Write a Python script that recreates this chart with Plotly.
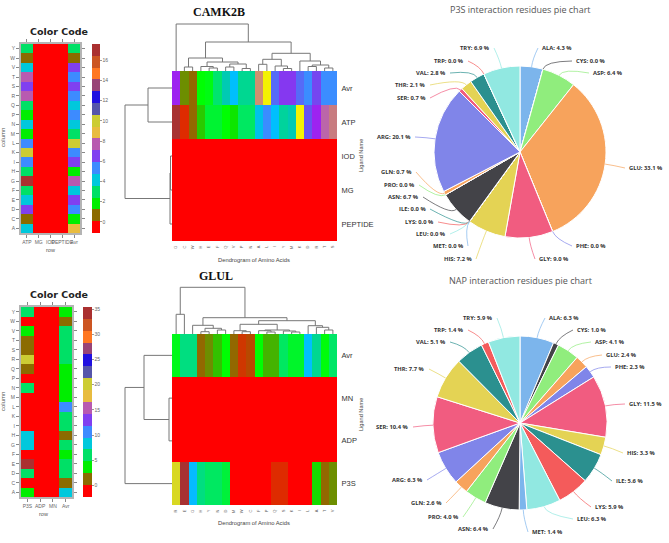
import math
import plotly.graph_objects as go

W = 669
H = 543

# ---- color code panels (counts per residue and ligand)
residues_rev = ["Y", "W", "V", "T", "S", "R", "Q", "P", "N", "M", "L", "K", "I", "H", "G", "F", "E", "D", "C", "A"]
ligands_a = ["ATP", "MG", "IOD", "PEPTIDE", "Avr"]
atp_a = [3, 1, 4, 8, 7, 8, 3, 2, 4, 2, 5, 10, 5, 3, 17, 3, 4, 7, 1, 4]
avr_a = [3, 1, 7, 5, 7, 5, 4, 5, 4, 3, 10, 5, 7, 2, 8, 4, 7, 5, 2, 9]
zeros = [0] * 20

ligands_b = ["P3S", "ADP", "MN", "Avr"]
p3s_b = [5, 0, 3, 2, 1, 20, 1, 0, 6, 0, 0, 0, 0, 8, 8, 0, 34, 6, 0, 4]
avr_b = [4, 2, 6, 6, 6, 6, 4, 4, 4, 4, 10, 6, 6, 2, 6, 4, 6, 6, 2, 8]

band_colors = ["#ff0000", "#8b6b00", "#00ee00", "#00e066", "#00c8dc", "#3d8bff", "#8040f0", "#b85ab0",
               "#e8bc40", "#cccc33", "#5555aa", "#2010e0", "#994477", "#ff7722", "#cc5522", "#aa3030"]

# ---- clustered heatmaps
order_a = ["G", "C", "W", "H", "E", "F", "Q", "V", "P", "N", "A", "L", "I", "Y", "M", "K", "D", "R", "T", "S"]
rows_a = ["Avr", "ATP", "IOD", "MG", "PEPTIDE"]
clu_avr_a = [7.1, 1.5, 1, 2.4, 2.5, 3.1, 3.7, 4.4, 3.4, 3.4, 9, 10, 6, 6.8, 6.8, 6, 5.4, 6.6, 5.4, 5.4]
clu_atp_a = [17, 0.5, 1, 1.9, 2.7, 2.7, 2.4, 2.1, 3, 3, 4.2, 5.4, 4.4, 3.5, 3.7, 10, 6.4, 7.1, 8, 8.5]

order_b = ["R", "E", "G", "H", "Y", "N", "D", "M", "W", "C", "F", "P", "Q", "S", "K", "I", "L", "A", "T", "V"]
rows_b = ["Avr", "MN", "ADP", "P3S"]
clu_avr_b = [5.1, 6.5, 6.5, 2, 3, 3.7, 4.8, 2, 1.2, 1.5, 4.8, 3.5, 3.5, 6, 5.3, 5.3, 8.8, 6.8, 4.9, 6.1]
clu_p3s_b = [21, 34, 9, 6.5, 6, 6, 5.5, 0, 0, 0, 0, 0, 1, 1, 0, 0, 0, 4, 2, 3]

clu_scale = [[0, "#ff0000"], [0.03, "#dd2c00"], [0.06, "#8f6a00"], [0.09, "#6b9000"], [0.12, "#10e000"],
             [0.14, "#00ff00"], [0.18, "#00e66a"], [0.22, "#00c8b8"], [0.26, "#00bfff"], [0.32, "#3d8bff"],
             [0.38, "#6a50f0"], [0.42, "#a020f0"], [0.47, "#bb66aa"], [0.50, "#c87c80"], [0.53, "#d09070"],
             [0.59, "#f5f500"], [0.64, "#c0c040"], [1, "#a83232"]]

# dendrograms: (height, left, right), leaves are column or row numbers
tree_top_a = (47, 0, (29,
                      (13, (4, 1, 2), (9, (4.5, 3, (3, 4, 5)), (7, (4, 6, 7), (2.5, 8, 9)))),
                      (17.7, (11.7, (6.7, 10, 11), (5, 12, (2.5, 13, 14))),
                       (10, 15, (6, (4.5, 16, 17), (3, 18, 19))))))
tree_side_a = (47, (24, 0, 1), (2, (1.5, 2, 3), 4))
tree_top_b = (46.7, (19.7, 0, 1), (16.3,
                                   (8.7, 2, (5.7, (2.3, 3, 4), (4, 5, 6))),
                                   (13.3, (9.7, (3.3, 7, (2.3, 8, 9)),
                                           (4, (3.3, 10, (2, 11, 12)), (3, 13, (2, 14, 15)))),
                                    (8.3, 16, (6.7, 17, (4, 18, 19))))))
tree_side_b = (47, (28, 0, (3, 1, 2)), 3)

# ---- pie charts
amino = ["ALA", "CYS", "ASP", "GLU", "PHE", "GLY", "HIS", "ILE", "LYS", "LEU", "MET", "ASN", "PRO", "GLN", "ARG",
         "SER", "THR", "VAL", "TRP", "TRY"]
p3s_share = [4.3, 0.0, 6.4, 33.1, 0.0, 9.0, 7.2, 0.0, 0.0, 0.0, 0.0, 6.7, 0.0, 0.7, 20.1, 0.7, 2.1, 2.8, 0.0, 6.9]
nap_share = [6.3, 1.0, 4.1, 2.4, 2.3, 11.5, 3.3, 5.6, 5.9, 6.3, 1.4, 6.4, 4.0, 2.6, 6.3, 10.4, 7.7, 5.1, 1.4, 5.9]
pie_colors = ["#7cb5ec", "#434348", "#90ed7d", "#f7a35c", "#8085e9", "#f15c80", "#e4d354", "#2b908f", "#f45b5b",
              "#91e8e1"] * 2

# where the pie labels sit on the page (x, y, side)
p3s_spots = {"ALA": (541, 48, "l"), "CYS": (575, 61, "l"), "ASP": (592, 73, "l"), "GLU": (628, 168, "l"),
             "PHE": (575, 246, "l"), "GLY": (538, 259, "l"), "HIS": (473, 259, "r"), "MET": (465, 246, "r"),
             "LEU": (447, 234, "r"), "LYS": (435, 222, "r"), "ILE": (427, 209, "r"), "ASN": (420, 197, "r"),
             "PRO": (416, 185, "r"), "GLN": (413, 172, "r"), "ARG": (412, 137, "r"), "SER": (427, 98, "r"),
             "THR": (427, 85, "r"), "VAL": (447, 73, "r"), "TRP": (465, 61, "r"), "TRY": (491, 48, "r")}
nap_spots = {"ALA": (548, 318, "l"), "CYS": (576, 330, "l"), "ASP": (594, 342, "l"), "GLU": (605, 355, "l"),
             "PHE": (614, 367, "l"), "GLY": (628, 404, "l"), "HIS": (626, 453, "l"), "ILE": (615, 481, "l"),
             "LYS": (594, 507, "l"), "LEU": (576, 519, "l"), "MET": (531, 532, "l"), "ASN": (490, 529, "r"),
             "PRO": (460, 517, "r"), "GLN": (443, 503, "r"), "ARG": (424, 480, "r"), "SER": (410, 427, "r"),
             "THR": (426, 369, "r"), "VAL": (447, 342, "r"), "TRP": (465, 330, "r"), "TRY": (494, 318, "r")}


def xdom(a, b):
    return [a / W, b / W]


def ydom(top, bottom):
    return [1 - bottom / H, 1 - top / H]


def stepped(colors):
    out = []
    for i, c in enumerate(colors):
        out.append([i / len(colors), c])
        out.append([(i + 1) / len(colors), c])
    return out


def walk(node, xs, ys):
    # returns leaf position and height of a node, collects the bracket lines
    if not isinstance(node, tuple):
        return node, 0
    h, left, right = node
    p1, h1 = walk(left, xs, ys)
    p2, h2 = walk(right, xs, ys)
    xs += [p1, p1, p2, p2, None]
    ys += [h1, h, h, h2, None]
    return (p1 + p2) / 2, h


def top_tree(fig, tree, ax):
    xs, ys = [], []
    walk(tree, xs, ys)
    fig.add_trace(go.Scatter(x=xs, y=ys, mode="lines", line=dict(color="#777777", width=1), hoverinfo="skip",
                             showlegend=False, xaxis="x" + ax, yaxis="y" + ax))


def side_tree(fig, tree, ax):
    xs, ys = [], []
    walk(tree, xs, ys)
    fig.add_trace(go.Scatter(x=ys, y=xs, mode="lines", line=dict(color="#777777", width=1), hoverinfo="skip",
                             showlegend=False, xaxis="x" + ax, yaxis="y" + ax))


fig = go.Figure()

# color code heatmaps
z_a = [[a, 0, 0, 0, b] for a, b in zip(atp_a, avr_a)]
z_b = [[a, 0, 0, b] for a, b in zip(p3s_b, avr_b)]
fig.add_trace(go.Heatmap(z=z_a, x=ligands_a, y=residues_rev, xaxis="x", yaxis="y", zmin=-1.1, zmax=17.6,
                         colorscale=stepped(band_colors), xgap=0, ygap=0,
                         colorbar=dict(x=92 / W, xanchor="left", y=1 - 233 / H, yanchor="bottom", lenmode="pixels",
                                       len=189, thicknessmode="pixels", thickness=8, tickvals=list(range(0, 17, 2)),
                                       ticks="outside", ticklen=2, tickcolor="#999999", outlinewidth=0, xpad=0, ypad=0,
                                       tickfont=dict(size=5, color="#666666", family="Liberation Sans"))))
fig.add_trace(go.Heatmap(z=z_b, x=ligands_b, y=residues_rev, xaxis="x2", yaxis="y2", zmin=-2.3, zmax=35.4,
                         colorscale=stepped(band_colors),
                         colorbar=dict(x=83 / W, xanchor="left", y=1 - 497 / H, yanchor="bottom", lenmode="pixels",
                                       len=190, thicknessmode="pixels", thickness=9, tickvals=list(range(0, 36, 5)),
                                       ticks="outside", ticklen=2, tickcolor="#999999", outlinewidth=0, xpad=0, ypad=0,
                                       tickfont=dict(size=5, color="#666666", family="Liberation Sans"))))

# clustered heatmaps
matrix_a = [clu_avr_a, clu_atp_a, zeros, zeros, zeros]
matrix_b = [clu_avr_b, zeros, zeros, clu_p3s_b]
fig.add_trace(go.Heatmap(z=matrix_a, x=order_a, y=rows_a, xaxis="x3", yaxis="y3", zmin=0, zmax=17,
                         colorscale=clu_scale, showscale=False))
fig.add_trace(go.Heatmap(z=matrix_b, x=order_b, y=rows_b, xaxis="x4", yaxis="y4", zmin=0, zmax=34,
                         colorscale=clu_scale, showscale=False))

top_tree(fig, tree_top_a, "5")
side_tree(fig, tree_side_a, "6")
top_tree(fig, tree_top_b, "7")
side_tree(fig, tree_side_b, "8")

# pies
fig.add_trace(go.Pie(labels=amino, values=p3s_share, sort=False, direction="clockwise", rotation=0, textinfo="none",
                     marker=dict(colors=pie_colors, line=dict(color="white", width=1)), showlegend=False,
                     domain=dict(x=xdom(434, 606), y=ydom(66, 238))))
fig.add_trace(go.Pie(labels=amino, values=nap_share, sort=False, direction="clockwise", rotation=0, textinfo="none",
                     marker=dict(colors=pie_colors, line=dict(color="white", width=1)), showlegend=False,
                     domain=dict(x=xdom(433, 607), y=ydom(336, 510))))

frame = dict(showline=True, mirror="ticks", linecolor="#b4b4b4", linewidth=2, ticks="outside", ticklen=3,
             tickcolor="#888888", tickwidth=1, showgrid=False, zeroline=False,
             tickfont=dict(size=5, color="#666666", family="Liberation Sans"))
hidden = dict(visible=False, fixedrange=True)
clu_x = dict(tickangle=-90, ticks="outside", ticklen=2, tickcolor="white", showgrid=False, zeroline=False,
             tickfont=dict(size=4, color="#666666", family="Liberation Sans"), type="category")
clu_y = dict(side="right", ticks="outside", ticklen=2, tickcolor="white", autorange="reversed", showgrid=False,
             zeroline=False, type="category", tickfont=dict(size=7.5, color="#333333", family="Liberation Sans"))

fig.update_layout(
    width=W, height=H, autosize=False, margin=dict(l=0, r=0, t=0, b=0), paper_bgcolor="white", plot_bgcolor="white",
    xaxis=dict(domain=xdom(21, 80), tickangle=0, anchor="y", **frame),
    yaxis=dict(domain=ydom(44, 233), autorange="reversed", anchor="x", **frame),
    xaxis2=dict(domain=xdom(21, 72), tickangle=0, anchor="y2", **frame),
    yaxis2=dict(domain=ydom(307, 497), autorange="reversed", anchor="x2", **frame),
    xaxis3=dict(domain=xdom(172, 337), anchor="y3", **clu_x),
    yaxis3=dict(domain=ydom(71, 241), anchor="x3", **clu_y),
    xaxis4=dict(domain=xdom(172, 337), anchor="y4", **clu_x),
    yaxis4=dict(domain=ydom(334, 505), anchor="x4", **clu_y),
    xaxis5=dict(domain=xdom(172, 337), range=[-0.5, 19.5], anchor="y5", **hidden),
    yaxis5=dict(domain=ydom(23, 71), range=[0, 48], anchor="x5", **hidden),
    xaxis6=dict(domain=xdom(122, 172), range=[50, 0], anchor="y6", **hidden),
    yaxis6=dict(domain=ydom(71, 241), range=[4.5, -0.5], anchor="x6", **hidden),
    xaxis7=dict(domain=xdom(172, 337), range=[-0.5, 19.5], anchor="y7", **hidden),
    yaxis7=dict(domain=ydom(286, 334), range=[0, 48], anchor="x7", **hidden),
    xaxis8=dict(domain=xdom(122, 172), range=[50, 0], anchor="y8", **hidden),
    yaxis8=dict(domain=ydom(334, 505), range=[3.5, -0.5], anchor="x8", **hidden),
)

notes = []
shapes = []


def note(text, x, y, size, color, family="Open Sans", bold=False, angle=0, side="center"):
    if bold:
        text = "<b>" + text + "</b>"
    notes.append(dict(text=text, x=x / W, y=1 - y / H, xref="paper", yref="paper", showarrow=False, xanchor=side,
                      yanchor="middle", textangle=angle, font=dict(size=size, color=color, family=family),
                      borderpad=0))


def pie_lines(shares, spots, cx, cy, r):
    # label and soft connector for every slice, angle comes from the shares
    run = 0
    for name, v, col in zip(amino, shares, pie_colors):
        mid = 2 * math.pi * (run + v / 2) / 100
        run += v
        x, y, side = spots[name]
        note("%s: %.1f %%" % (name, v), x, y, 5.8, "#333333", bold=True, side="left" if side == "l" else "right")
        ex = cx + r * math.sin(mid)
        ey = cy - r * math.cos(mid)
        kx = cx + (r + 8) * math.sin(mid)
        ky = cy - (r + 8) * math.cos(mid)
        end = x - 3 if side == "l" else x + 3
        path = "M %.5f %.5f Q %.5f %.5f %.5f %.5f" % (ex / W, 1 - ey / H, kx / W, 1 - ky / H, end / W, 1 - y / H)
        shapes.append(dict(type="path", path=path, xref="paper", yref="paper", line=dict(color=col, width=0.7)))


pie_lines(p3s_share, p3s_spots, 520, 152, 86)
pie_lines(nap_share, nap_spots, 520, 423, 87)

note("P3S interaction residues pie chart", 520, 10, 9, "#555555")
note("NAP interaction residues pie chart", 520, 280, 9, "#555555")
note("CAMK2B", 219, 12, 12, "#111111", family="Liberation Serif", bold=True)
note("GLUL", 216, 276, 12, "#111111", family="Liberation Serif", bold=True)
note("Color Code", 59, 32, 9.5, "#222222", family="DejaVu Sans", bold=True)
note("Color Code", 59, 295, 9.5, "#222222", family="DejaVu Sans", bold=True)
note("column", 3, 138, 6, "#555555", family="Liberation Sans", angle=-90)
note("column", 3, 402, 6, "#555555", family="Liberation Sans", angle=-90)
note("row", 50, 250, 5.5, "#555555", family="Liberation Sans")
note("row", 43, 514, 5.5, "#555555", family="Liberation Sans")
note("Ligand Name", 361, 156, 5.6, "#444444", family="Liberation Sans", angle=-90)
note("Ligand Name", 361, 415, 5.6, "#444444", family="Liberation Sans", angle=-90)
note("Dendrogram of Amino Acids", 254, 260, 5.8, "#444444", family="Liberation Sans")
note("Dendrogram of Amino Acids", 254, 523, 5.8, "#444444", family="Liberation Sans")

fig.update_layout(annotations=notes, shapes=shapes)

fig.write_html("out.html", config=dict(displayModeBar=False), post_script="document.body.style.margin='0';")
